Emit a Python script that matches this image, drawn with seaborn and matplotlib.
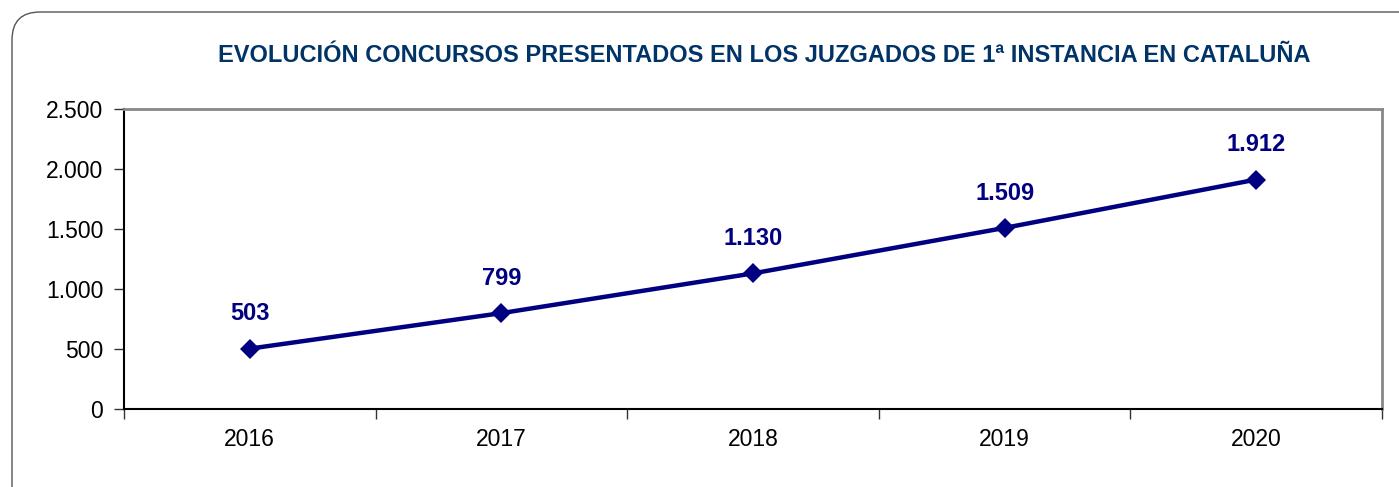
import matplotlib
matplotlib.use("Agg")
import matplotlib.pyplot as plt
from matplotlib.patches import FancyBboxPatch
from matplotlib.ticker import FixedLocator, FuncFormatter
import seaborn as sns
import pandas as pd
import numpy as np

years = [2016, 2017, 2018, 2019, 2020]
concursos = [503, 799, 1130, 1509, 1912]
y_ticks = [0, 500, 1000, 1500, 2000, 2500]
title = "EVOLUCIÓN CONCURSOS PRESENTADOS EN LOS JUZGADOS DE 1ª INSTANCIA EN CATALUÑA"

df = pd.DataFrame({"year": years, "value": concursos})

sns.set_style("white")
plt.rcParams["font.family"] = ["Liberation Sans", "DejaVu Sans"]

fig = plt.figure(figsize=(13.99, 4.87), dpi=100)
ax = fig.add_axes([124/1399, 1-409/487, (1382-124)/1399, (409-109)/487])

# rounded border around the chart
border = FancyBboxPatch((12/1399, -0.2), 1.2, 1.2 - 12/487,
                        boxstyle="round,pad=0,rounding_size=0.02",
                        transform=fig.transFigure, fill=False,
                        edgecolor="#555555", linewidth=1.0,
                        mutation_aspect=1399/487)
fig.patches.append(border)

navy = "#000080"
sns.lineplot(data=df, x="year", y="value", ax=ax, color=navy, linewidth=3.2,
             marker="D", markersize=10, markeredgewidth=0)

for x, v in zip(years, concursos):
    ax.annotate(f"{v:,}".replace(",", "."), (x, v), xytext=(0, 25),
                textcoords="offset points", ha="center", va="center",
                fontsize=17, fontweight="bold", color=navy)

ax.set_xlim(years[0] - 0.5, years[-1] + 0.5)
ax.set_ylim(0, 2500)
ax.yaxis.set_major_locator(FixedLocator(y_ticks))
ax.yaxis.set_major_formatter(FuncFormatter(lambda v, p: f"{int(v):,}".replace(",", ".")))
ax.set_xticks(years)
ax.set_xticklabels([str(y) for y in years])
ax.xaxis.set_minor_locator(FixedLocator([y - 0.5 for y in years] + [years[-1] + 0.5]))
ax.tick_params(axis="x", which="major", length=0, pad=14, labelsize=16.5, labelcolor="black")
ax.tick_params(axis="x", which="minor", length=7, width=1, color="#333333", direction="out", bottom=True)
ax.tick_params(axis="y", which="major", length=7, width=1, color="#333333", direction="out", left=True,
               pad=8, labelsize=16.5, labelcolor="black")
ax.set_xlabel("")
ax.set_ylabel("")

for s in ["left", "bottom"]:
    ax.spines[s].set_color("black")
    ax.spines[s].set_linewidth(1.5)
for s in ["top", "right"]:
    ax.spines[s].set_color("#888888")
    ax.spines[s].set_linewidth(2)
    ax.spines[s].set_visible(True)

fig.text(764/1399, 1-55/487, title, ha="center", va="center", fontsize=17,
         fontweight="bold", color="#003366")

fig.savefig("out.png", dpi=100)
